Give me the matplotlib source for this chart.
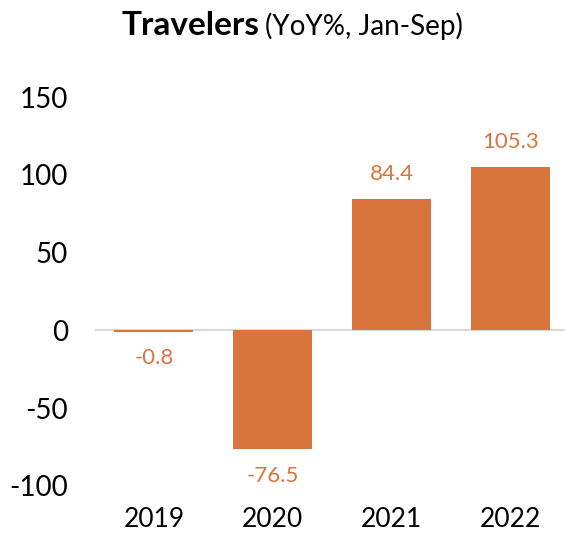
import matplotlib
matplotlib.use("Agg")
import matplotlib.pyplot as plt

years = ["2019", "2020", "2021", "2022"]
yoy = [-0.8, -76.5, 84.4, 105.3]
labels = ["-0.8", "-76.5", "84.4", "105.3"]
yticks = [-100, -50, 0, 50, 100, 150]

ORANGE = "#D9743D"
plt.rcParams["font.family"] = ["Lato", "DejaVu Sans"]

W, H = 565, 535
fig = plt.figure(figsize=(W / 100, H / 100), dpi=100)
ax = fig.add_axes([94.5 / W, 49 / H, 475.5 / W, 389 / H])

x = range(len(years))
ax.bar(x, yoy, width=0.665, color=ORANGE, zorder=2)
ax.axhline(0, color="#D9D9D9", lw=1.5, zorder=1)

for i, (v, s) in enumerate(zip(yoy, labels)):
    off = 18 if v > 0 else -19
    ax.annotate(s, (i, v), xytext=(0, off), textcoords="offset points",
                ha="center", va="center", color=ORANGE, fontsize=16, clip_on=False)

ax.set_xlim(-0.5, 3.5)
ax.set_ylim(-100, 150)
ax.set_yticks(yticks)
ax.set_yticklabels([str(t) for t in yticks])
ax.set_xticks(list(x))
ax.set_xticklabels(years)
ax.tick_params(axis="y", length=0, pad=19, labelsize=20)
ax.tick_params(axis="x", length=0, pad=15, labelsize=19)
for sp in ax.spines.values():
    sp.set_visible(False)

fig.text(259 / W, 1 - 35 / H, "Travelers", ha="right", va="baseline",
         fontsize=24, fontweight="bold")
fig.text(265 / W, 1 - 35 / H, "(YoY%, Jan-Sep)", ha="left", va="baseline",
         fontsize=20)

fig.savefig("out.png", dpi=100)
